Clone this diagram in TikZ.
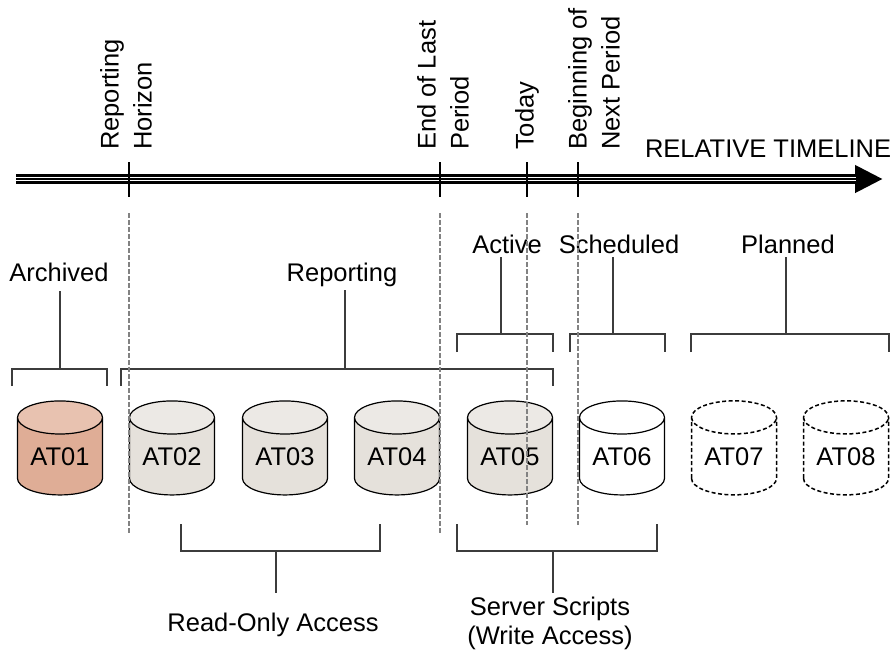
\documentclass[tikz,border=0pt]{standalone}
\usepackage{fontspec}
\setmainfont{Liberation Sans}
\usepackage{tikz}
\usetikzlibrary{
    arrows.meta,
    shapes.geometric
}
\definecolor{archivedred}{RGB}{223, 173, 150}
\definecolor{archivedtop}{RGB}{232, 194, 176}
\definecolor{reportgray}{RGB}{229, 225, 219}
\definecolor{reporttop}{RGB}{236, 233, 229}
\definecolor{guidegray}{RGB}{130, 130, 130}
\definecolor{bracegray}{RGB}{60, 60, 60}

\begin{document}
\begin{tikzpicture}[x=1pt, y=-1pt,
        tank/.style={cylinder, shape border rotate=90, draw, line width=1.2pt, aspect=0.56, minimum width=85pt, minimum height=94pt, inner sep=0pt, font=\fontsize{25.5}{29}\selectfont},
        archivedtank/.style={tank, cylinder uses custom fill, cylinder body fill=archivedred, cylinder end fill=archivedtop},
        reporttank/.style={tank, cylinder uses custom fill, cylinder body fill=reportgray, cylinder end fill=reporttop},
        plannedtank/.style={tank, line width=1.5pt, dash pattern=on 4pt off 2.5pt},
        groupname/.style={inner sep=0pt, outer sep=4pt, anchor=base, font=\fontsize{25.5}{29}\selectfont},
        eventname/.style={inner sep=0pt, rotate=90, anchor=west, align=left, font=\fontsize{25.5}{33}\selectfont},
        brace/.style={draw=bracegray, line width=1.1pt},
        tickmark/.style={draw=black, line width=1.2pt},
        guide/.style={draw=guidegray, line width=2pt, dash pattern=on 4.5pt off 2.5pt}
    ]
            \useasboundingbox (0, 0) rectangle (893, 654);

            % timeline
            \coordinate (tlstart) at (16, 179);
            \coordinate (tlend) at (883, 179);
            \coordinate (tlinner) at (856, 179);
            \draw[line width=10pt, -{Triangle[length=28pt, width=26pt]}] (tlstart) -- (tlend);
            \draw[white, line width=0.9pt, double=black, double distance=2.2pt] (tlstart) -- (tlinner);
            \node[groupname, anchor=base west] (timeline) at (641, 157) {RELATIVE TIMELINE};

            \coordinate (horizon) at (129, 179);
            \coordinate (lastend) at (440, 179);
            \coordinate (today) at (527, 179);
            \coordinate (nextbegin) at (578, 179);

            \draw[tickmark] (horizon) ++(0, -17) -- ++(0, 35);
            \draw[tickmark] (lastend) ++(0, -17) -- ++(0, 35);
            \draw[tickmark] (today) ++(0, -17) -- ++(0, 35);
            \draw[tickmark] (nextbegin) ++(0, -17) -- ++(0, 35);

            \node[eventname] (horizonname) at (126, 150) {Reporting\\Horizon};
            \node[eventname] (lastendname) at (443, 150) {End of Last\\Period};
            \node[eventname] (todayname) at (527, 150) {Today};
            \node[eventname] (nextbeginname) at (594, 150) {Beginning of\\Next Period};

            % tanks
            \node[archivedtank] (at01) at (60, 456.5) {AT01};
            \node[reporttank] (at02) at (172, 456.5) {AT02};
            \node[reporttank] (at03) at (285, 456.5) {AT03};
            \node[reporttank] (at04) at (397, 456.5) {AT04};
            \node[reporttank] (at05) at (510, 456.5) {AT05};
            \node[tank] (at06) at (622, 456.5) {AT06};
            \node[plannedtank] (at07) at (734, 456.5) {AT07};
            \node[plannedtank] (at08) at (846, 456.5) {AT08};

            % groups above
            \node[groupname, outer sep=10pt] (archived) at (59, 281) {Archived};
            \node[groupname] (reporting) at (342, 281) {Reporting};
            \node[groupname] (active) at (507, 253) {Active};
            \node[groupname] (scheduled) at (619, 253) {Scheduled};
            \node[groupname] (planned) at (788, 253) {Planned};

            \coordinate (archivedstem) at (60, 369);
            \coordinate (reportingstem) at (345, 369);
            \coordinate (activestem) at (501, 334);
            \coordinate (scheduledstem) at (613, 334);
            \coordinate (plannedstem) at (786, 334);

            \draw[brace] (12, 386) |- (107, 369) -- (107, 386);
            \draw[brace] (121, 386) |- (553, 369) -- (553, 386);
            \draw[brace] (457, 352) |- (553, 334) -- (553, 352);
            \draw[brace] (570, 352) |- (665, 334) -- (665, 352);
            \draw[brace] (691, 352) |- (889, 334) -- (889, 352);

            \draw[brace] (archived.south -| archivedstem) -- (archivedstem);
            \draw[brace] (reporting.south -| reportingstem) -- (reportingstem);
            \draw[brace] (active.south -| activestem) -- (activestem);
            \draw[brace] (scheduled.south -| scheduledstem) -- (scheduledstem);
            \draw[brace] (planned.south -| plannedstem) -- (plannedstem);

            % access below
            \node[groupname, anchor=north, outer sep=20pt] (readonly) at (273, 593) {Read-Only Access};
            \node[groupname, anchor=north, align=center] (scripts) at (550, 593) {Server Scripts\\(Write Access)};

            \coordinate (readonlystem) at (276, 551);
            \coordinate (scriptsstem) at (553, 551);

            \draw[brace] (181, 524) |- (380, 551) -- (380, 524);
            \draw[brace] (457, 524) |- (657, 551) -- (657, 524);

            \draw[brace] (readonlystem) -- (readonlystem |- readonly.north);
            \draw[brace] (scriptsstem) -- (scriptsstem |- scripts.north);

            % dashed guides
            \draw[guide] (horizon |- 0, 213) -- (horizon |- 0, 533);
            \draw[guide] (lastend |- 0, 213) -- (lastend |- 0, 533);
            \draw[guide] (today |- 0, 213) -- (today |- 0, 525);
            \draw[guide] (nextbegin |- 0, 213) -- (nextbegin |- 0, 525);
        \end{tikzpicture}
\end{document}
